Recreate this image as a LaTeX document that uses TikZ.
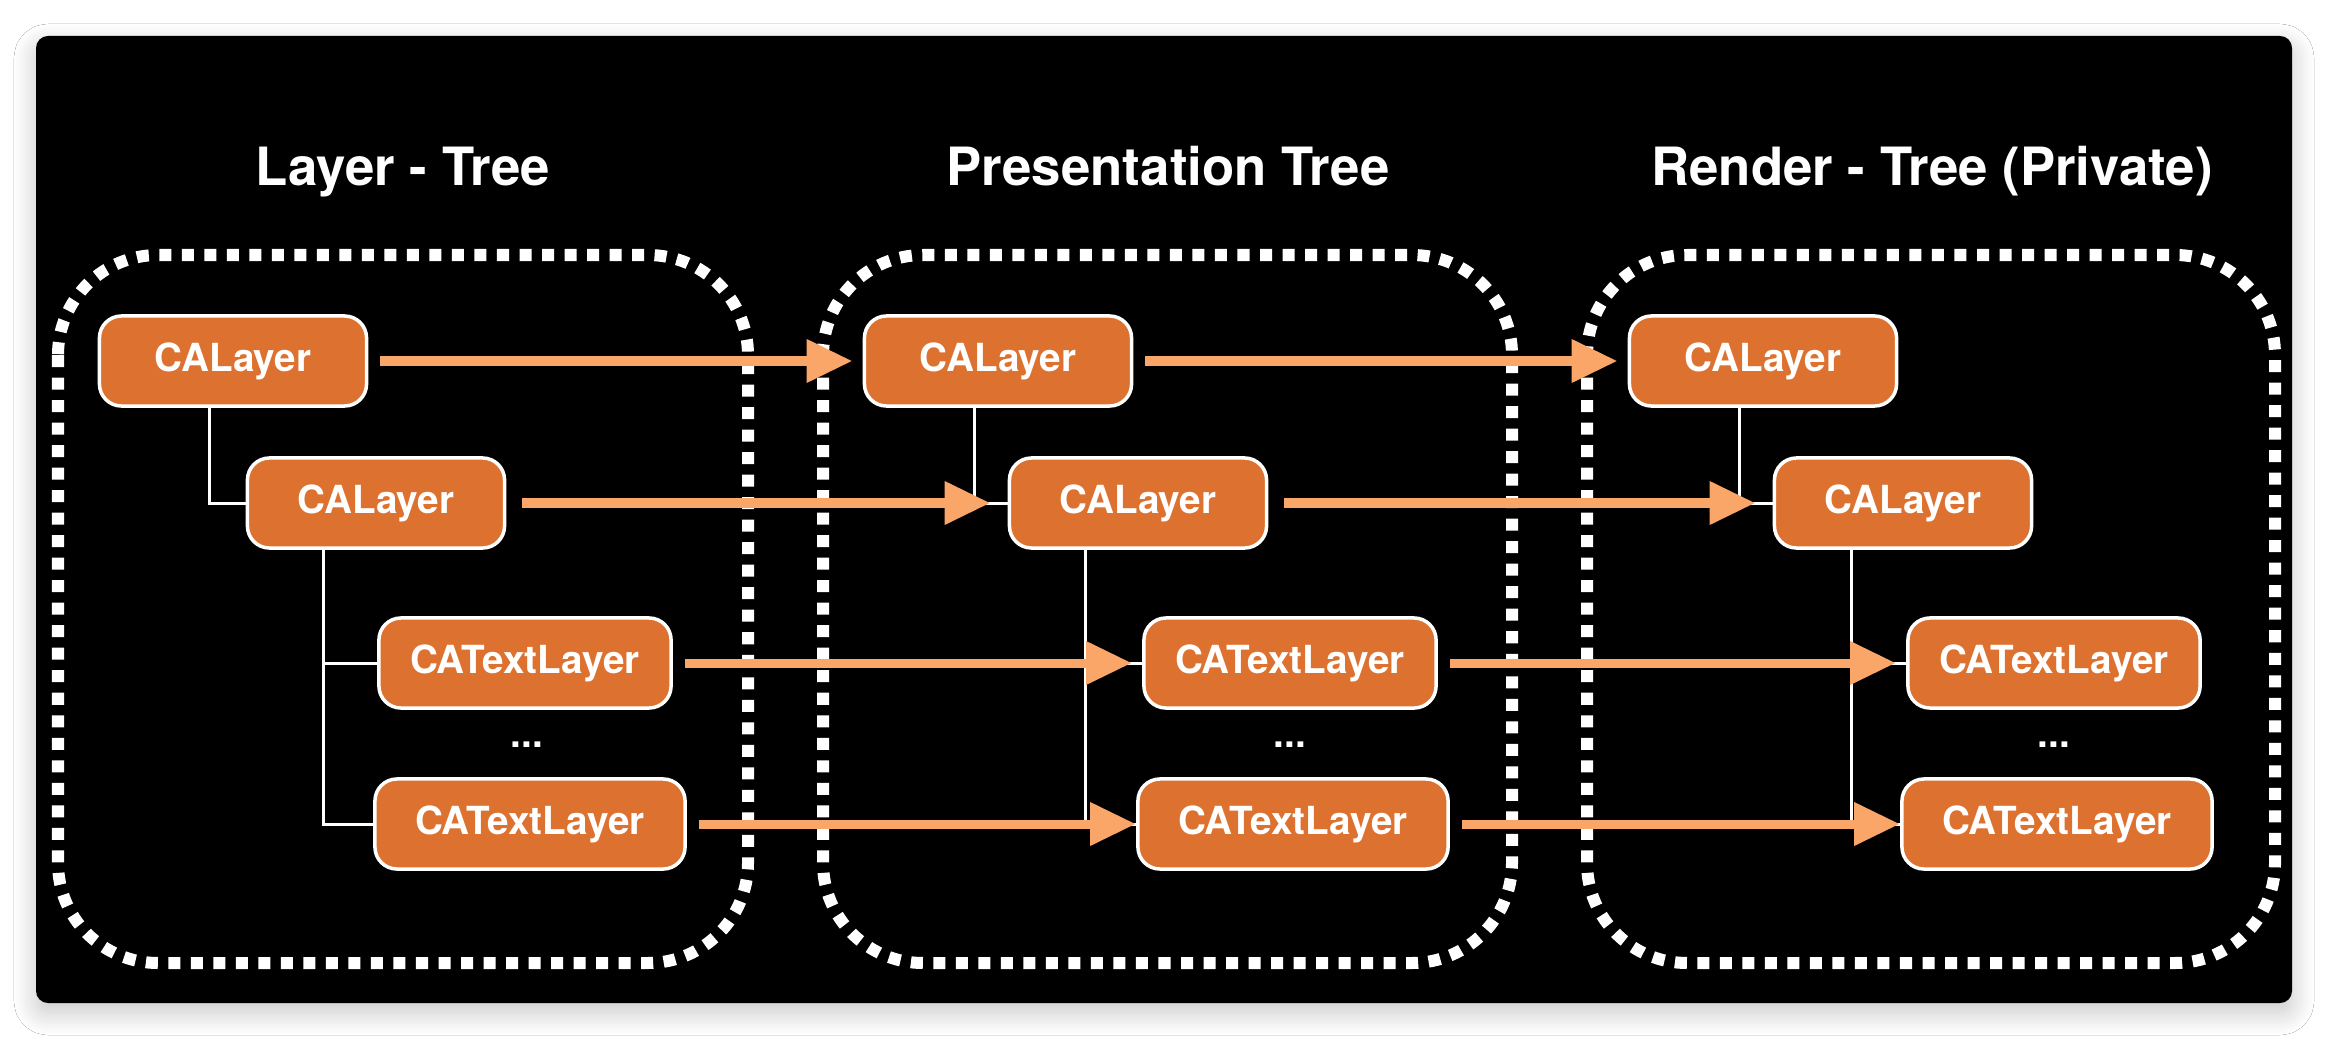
\documentclass[tikz,border=0pt]{standalone}
\usepackage{fontspec}
\setmainfont{TeX Gyre Heros}
\usetikzlibrary{arrows.meta,shadows.blur}
\definecolor{boxorange}{RGB}{221,114,48}
\definecolor{arroworange}{RGB}{250,166,104}
\tikzstyle{treetitle} = [anchor=base, text=white,
		font=\bfseries\fontsize{15}{18}\selectfont]
\tikzstyle{calbox} = [shape=rectangle, rounded corners=0.22cm,
		draw=white, line width=0.035cm, fill=boxorange, text=white,
		font=\bfseries\fontsize{11}{13}\selectfont,
		minimum height=0.9cm, inner sep=0pt, anchor=center]
\tikzstyle{more} = [anchor=base, text=white,
		font=\bfseries\fontsize{11}{13}\selectfont]
\tikzstyle{dotframe} = [draw=white, line width=0.12cm,
		dash pattern=on 0.12cm off 0.105cm, rounded corners=1cm]
\tikzstyle{treeline} = [draw=white, line width=0.03cm]
\tikzstyle{copyline} = [draw=arroworange, line width=0.09cm,
		>={Triangle[length=0.45cm,width=0.44cm,line width=0pt,fill=arroworange]},
		shorten <=0.12cm, shorten >=0.11cm]

\begin{document}
\begin{tikzpicture}[x=0.01cm, y=-0.01cm]
	\useasboundingbox (0,0) rectangle (2328,1040);
	\fill[white] (0,0) rectangle (2328,1040);
	\fill[black, rounded corners=0.12cm,
		blur shadow={shadow xshift=0cm, shadow yshift=-0.1cm,
		shadow blur radius=0.22cm, shadow opacity=22, shadow blur steps=24}]
		(36,36) rectangle (2292,1003);

	% titles
	\node[treetitle] (layertitle) at (403,186) {Layer - Tree};
	\node[treetitle] (prestitle) at (1168,186) {Presentation Tree};
	\node[treetitle] (rendertitle) at (1932,186) {Render - Tree (Private)};

	% frames
	\draw[dotframe] (58,255) rectangle (748,963);
	\draw[dotframe] (823,255) rectangle (1512,963);
	\draw[dotframe] (1587,255) rectangle (2275,963);

	% layer tree
	\node[calbox, minimum width=2.67cm] (lA) at (233,361) {CALayer};
	\node[calbox, minimum width=2.57cm] (lB) at (376,503) {CALayer};
	\node[calbox, minimum width=2.92cm] (lC) at (525,663) {CATextLayer};
	\node[more] (ldots) at (527,747) {...};
	\node[calbox, minimum width=3.10cm] (lD) at (530,824) {CATextLayer};

	% presentation tree
	\node[calbox, minimum width=2.67cm] (pA) at (998,361) {CALayer};
	\node[calbox, minimum width=2.57cm] (pB) at (1138,503) {CALayer};
	\node[calbox, minimum width=2.92cm] (pC) at (1290,663) {CATextLayer};
	\node[more] (pdots) at (1290,747) {...};
	\node[calbox, minimum width=3.10cm] (pD) at (1293,824) {CATextLayer};

	% render tree
	\node[calbox, minimum width=2.67cm] (rA) at (1763,361) {CALayer};
	\node[calbox, minimum width=2.57cm] (rB) at (1903,503) {CALayer};
	\node[calbox, minimum width=2.92cm] (rC) at (2054,663) {CATextLayer};
	\node[more] (rdots) at (2054,747) {...};
	\node[calbox, minimum width=3.10cm] (rD) at (2057,824) {CATextLayer};

	% parent - child lines
	\draw[treeline] ([xshift=-0.235cm]lA.south) |- (lB.west);
	\draw[treeline] ([xshift=-0.52cm]lB.south) |- (lC.west);
	\draw[treeline] ([xshift=-0.52cm]lB.south) |- (lD.west);
	\draw[treeline] ([xshift=-0.235cm]pA.south) |- (pB.west);
	\draw[treeline] ([xshift=-0.52cm]pB.south) |- (pC.west);
	\draw[treeline] ([xshift=-0.52cm]pB.south) |- (pD.west);
	\draw[treeline] ([xshift=-0.235cm]rA.south) |- (rB.west);
	\draw[treeline] ([xshift=-0.52cm]rB.south) |- (rC.west);
	\draw[treeline] ([xshift=-0.52cm]rB.south) |- (rD.west);

	% copies between the trees
	\path [copyline,->] (lA) edge (pA);
	\path [copyline,->] (pA) edge (rA);
	\path [copyline,->,shorten <=0.16cm,shorten >=0.18cm] (lB) edge (pB);
	\path [copyline,->,shorten <=0.16cm,shorten >=0.18cm] (pB) edge (rB);
	\path [copyline,->] (lC) edge (pC);
	\path [copyline,->] (pC) edge (rC);
	\path [copyline,->,shorten >=0.01cm] (lD) edge (pD);
	\path [copyline,->,shorten >=0.01cm] (pD) edge (rD);
\end{tikzpicture}
\end{document}
